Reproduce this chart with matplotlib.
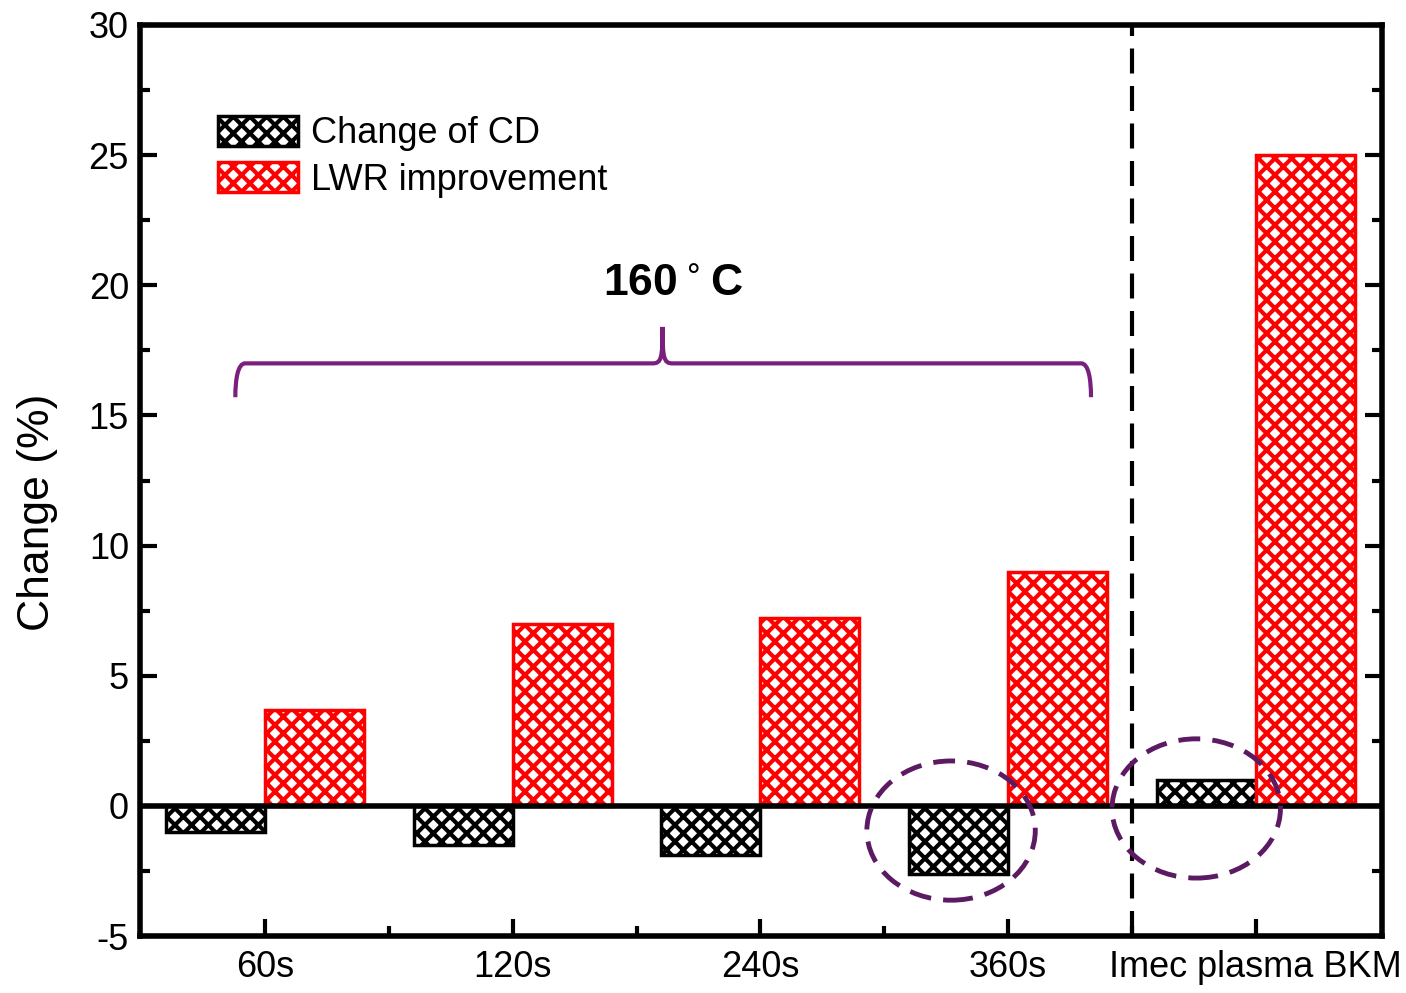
import matplotlib
matplotlib.use("Agg")
import matplotlib.pyplot as plt
import numpy as np
from matplotlib.patches import Ellipse
from matplotlib.path import Path
from matplotlib.patches import PathPatch

plt.rcParams['font.family'] = ['Liberation Sans', 'DejaVu Sans']
plt.rcParams['hatch.linewidth'] = 3.0
plt.rcParams['axes.unicode_minus'] = False

categories = ["60s", "120s", "240s", "360s", "Imec plasma BKM"]
cd_change = [-1.0, -1.5, -1.9, -2.6, 1.0]
lwr_improvement = [3.7, 7.0, 7.2, 9.0, 25.0]

fig = plt.figure(figsize=(14.06, 9.93), dpi=100)
ax = fig.add_axes([140/1406, 1-936/993, (1382-140)/1406, (936-25)/993])

x = np.arange(1, len(categories) + 1)
w = 0.4
ax.bar(x - w/2, cd_change, w, facecolor='white', edgecolor='black', hatch='xx',
       linewidth=2.5, label='Change of CD')
ax.bar(x + w/2, lwr_improvement, w, facecolor='white', edgecolor='red', hatch='xx',
       linewidth=2.5, label='LWR improvement')

ax.axhline(0, color='black', linewidth=4, zorder=3)
ax.axvline(4.5, color='black', linewidth=3, linestyle=(0, (6, 3)), zorder=3)

ax.set_xlim(0.495, 5.51)
ax.set_ylim(-5, 30)
ax.set_xticks(x)
ax.set_xticklabels(categories)
ax.set_xticks(x[:-1] + 0.5, minor=True)
ax.set_yticks(np.arange(-5, 31, 5))
ax.set_yticks(np.arange(-2.5, 30, 5), minor=True)
ax.tick_params(axis='both', which='major', direction='in', length=12, width=3,
               labelsize=26, pad=10)
ax.tick_params(axis='both', which='minor', direction='in', length=7, width=3)
ax.tick_params(axis='y', right=True, which='both')
ax.tick_params(axis='y', which='major', pad=8)
for s in ax.spines.values():
    s.set_linewidth(4)
ax.set_ylabel('Change (%)', fontsize=32)
ax.yaxis.set_label_coords(-0.066, 0.465)

leg = ax.legend(loc='upper left', bbox_to_anchor=(0.037, 0.936), frameon=False,
                fontsize=26, handlelength=2.2, handleheight=0.9,
                handletextpad=0.35, labelspacing=0.3)

# brace
purple = '#7b1f7f'
x0, x1 = 0.88, 4.335
xc = 2.605
yb, yt, yp = 15.7, 17.0, 18.4
r = 0.04
verts = [(x0, yb), (x0, yt - 0.6), (x0 + 0.01, yt), (x0 + r, yt),
         (xc - r, yt), (xc - 0.005, yt), (xc, yt + 0.2), (xc, yp),
         (xc, yt + 0.2), (xc + 0.005, yt), (xc + r, yt),
         (x1 - r, yt), (x1 - 0.01, yt), (x1, yt - 0.6), (x1, yb)]
codes = [Path.MOVETO, Path.CURVE4, Path.CURVE4, Path.CURVE4,
         Path.LINETO, Path.CURVE4, Path.CURVE4, Path.CURVE4,
         Path.CURVE4, Path.CURVE4, Path.CURVE4,
         Path.LINETO, Path.CURVE4, Path.CURVE4, Path.CURVE4]
ax.add_patch(PathPatch(Path(verts, codes), facecolor='none', edgecolor=purple,
                       linewidth=3, zorder=4))
ax.text(2.65, 20.0, '160$^\\circ$C', fontsize=32, fontweight='bold',
        ha='center', va='center')

# ellipses
ecol = '#5c1a63'
for cx, cy in [(3.77, -0.95), (4.76, -0.1)]:
    e = Ellipse((cx, cy), 0.68, 5.35, facecolor='none', edgecolor=ecol,
                linewidth=3.5, linestyle=(0, (4.5, 2.5)), zorder=5)
    ax.add_patch(e)

fig.savefig('out.png', dpi=100)
